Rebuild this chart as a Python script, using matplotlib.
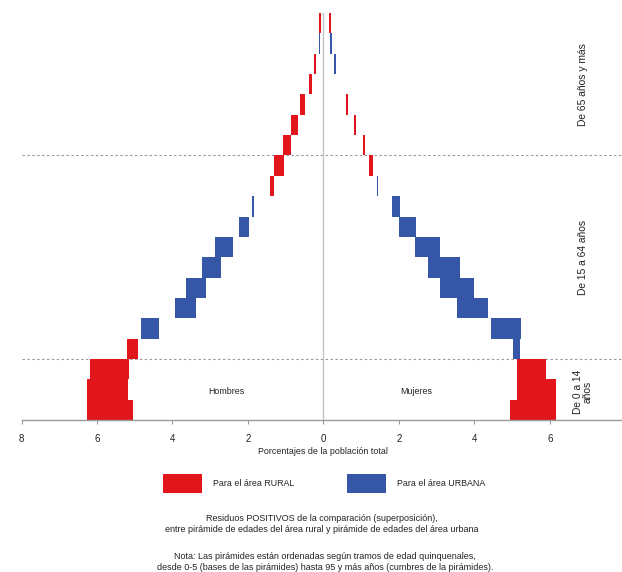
import matplotlib
matplotlib.use("Agg")
import matplotlib.pyplot as plt
from matplotlib.patches import Rectangle
import numpy as np

plt.rcParams['font.family'] = ['Liberation Sans', 'DejaVu Sans']

# age groups 0-4 ... 95+ (bottom to top)
groups = ['0-4', '5-9', '10-14', '15-19', '20-24', '25-29', '30-34', '35-39',
          '40-44', '45-49', '50-54', '55-59', '60-64', '65-69', '70-74',
          '75-79', '80-84', '85-89', '90-94', '95+']

# residual bars for men (left side, negative %), start/end and area (R=rural, U=urbana)
men_start = [-6.27, -6.27, -6.18, -5.21, -4.84, -3.92, -3.64, -3.23, -2.88, -2.23,
             -1.88, -1.42, -1.30, -1.06, -0.85, -0.62, -0.39, -0.24, -0.12, -0.11]
men_end = [-5.04, -5.19, -5.15, -4.92, -4.37, -3.38, -3.11, -2.72, -2.40, -1.98,
           -1.84, -1.30, -1.05, -0.85, -0.67, -0.48, -0.30, -0.19, -0.10, -0.07]
men_area = ['R', 'R', 'R', 'R', 'U', 'U', 'U', 'U', 'U', 'U',
            'U', 'R', 'R', 'R', 'R', 'R', 'R', 'R', 'U', 'R']

# residual bars for women (right side)
women_start = [4.95, 5.14, 5.14, 5.03, 4.43, 3.54, 3.08, 2.78, 2.42, 2.01,
               1.81, 1.41, 1.22, 1.04, 0.81, 0.61, 0.45, 0.27, 0.18, 0.16]
women_end = [6.16, 6.16, 5.90, 5.21, 5.24, 4.36, 3.98, 3.63, 3.09, 2.45,
             2.02, 1.45, 1.31, 1.09, 0.87, 0.66, 0.45, 0.32, 0.23, 0.20]
women_area = ['R', 'R', 'R', 'U', 'U', 'U', 'U', 'U', 'U', 'U',
              'U', 'U', 'R', 'R', 'R', 'R', 'R', 'U', 'U', 'R']

xticks = [-8, -6, -4, -2, 0, 2, 4, 6]
section_breaks = [3, 13]
section_labels = ['De 0 a 14\naños', 'De 15 a 64 años', 'De 65 años y más']
section_y = [1.4, 8.0, 16.5]

RED = '#e2141c'
BLUE = '#3657a7'
colors = {'R': RED, 'U': BLUE}

W, H = 622, 572
fig = plt.figure(figsize=(W / 100, H / 100), dpi=100)
ax = fig.add_axes([21.5 / W, 1 - 420 / H, (W - 21.5) / W, (420 - 13) / H])

y = np.arange(len(groups))
ms = np.array(men_start)
me = np.array(men_end)
ws = np.array(women_start)
we = np.array(women_end)
ax.barh(y, me - ms, left=ms, height=1.0, align='edge',
        color=[colors[a] for a in men_area], linewidth=0)
ax.barh(y, we - ws, left=ws, height=1.0, align='edge',
        color=[colors[a] for a in women_area], linewidth=0)

ax.set_xlim(-8, 7.91)
ax.set_ylim(0, 20)

ax.axvline(0, color='#c4c4c4', lw=1.0, zorder=0)
for b in section_breaks:
    ax.axhline(b, color='#9a9a9a', lw=0.8, dashes=(2.2, 2.2), zorder=0)

for lab, yy in zip(section_labels, section_y):
    ax.text(6.87, yy, lab, rotation=90, ha='center', va='center',
            fontsize=7.4, color='#222222', linespacing=1.0)

ax.text(-2.58, 1.38, 'Hombres', ha='center', va='center', fontsize=6.4, color='#222222')
ax.text(2.45, 1.38, 'Mujeres', ha='center', va='center', fontsize=6.4, color='#222222')

for s in ['top', 'right', 'left']:
    ax.spines[s].set_visible(False)
ax.spines['bottom'].set_color('#9a9a9a')
ax.spines['bottom'].set_linewidth(1.0)
ax.set_yticks([])
ax.set_xticks(xticks)
ax.set_xticklabels([str(abs(t)) for t in xticks])
ax.tick_params(axis='x', length=3, width=0.8, color='#9a9a9a', pad=7,
               labelsize=7, labelcolor='#222222')

fig.text(323 / W, 1 - 452 / H, 'Porcentajes de la población total',
         ha='center', va='center', fontsize=6.4, color='#222222')

# legend
for x0, col, lab in [(163, RED, 'Para el área RURAL'), (347, BLUE, 'Para el área URBANA')]:
    fig.add_artist(Rectangle((x0 / W, 1 - 493 / H), 39 / W, 19 / H,
                             transform=fig.transFigure, facecolor=col,
                             edgecolor='none'))
    fig.text((x0 + 50) / W, 1 - 483.5 / H, lab, ha='left', va='center',
             fontsize=6.4, color='#222222')

fig.text(322 / W, 1 - 524 / H,
         'Residuos POSITIVOS de la comparación (superposición),\n'
         'entre pirámide de edades del área rural y pirámide de edades del área urbana',
         ha='center', va='center', fontsize=6.5, color='#222222', linespacing=1.15)
fig.text(325 / W, 1 - 562 / H,
         'Nota: Las pirámides están ordenadas según tramos de edad quinquenales,\n'
         'desde 0-5 (bases de las pirámides) hasta 95 y más años (cumbres de la pirámides).',
         ha='center', va='center', fontsize=6.5, color='#222222', linespacing=1.15)

fig.savefig('out.png', dpi=100)
